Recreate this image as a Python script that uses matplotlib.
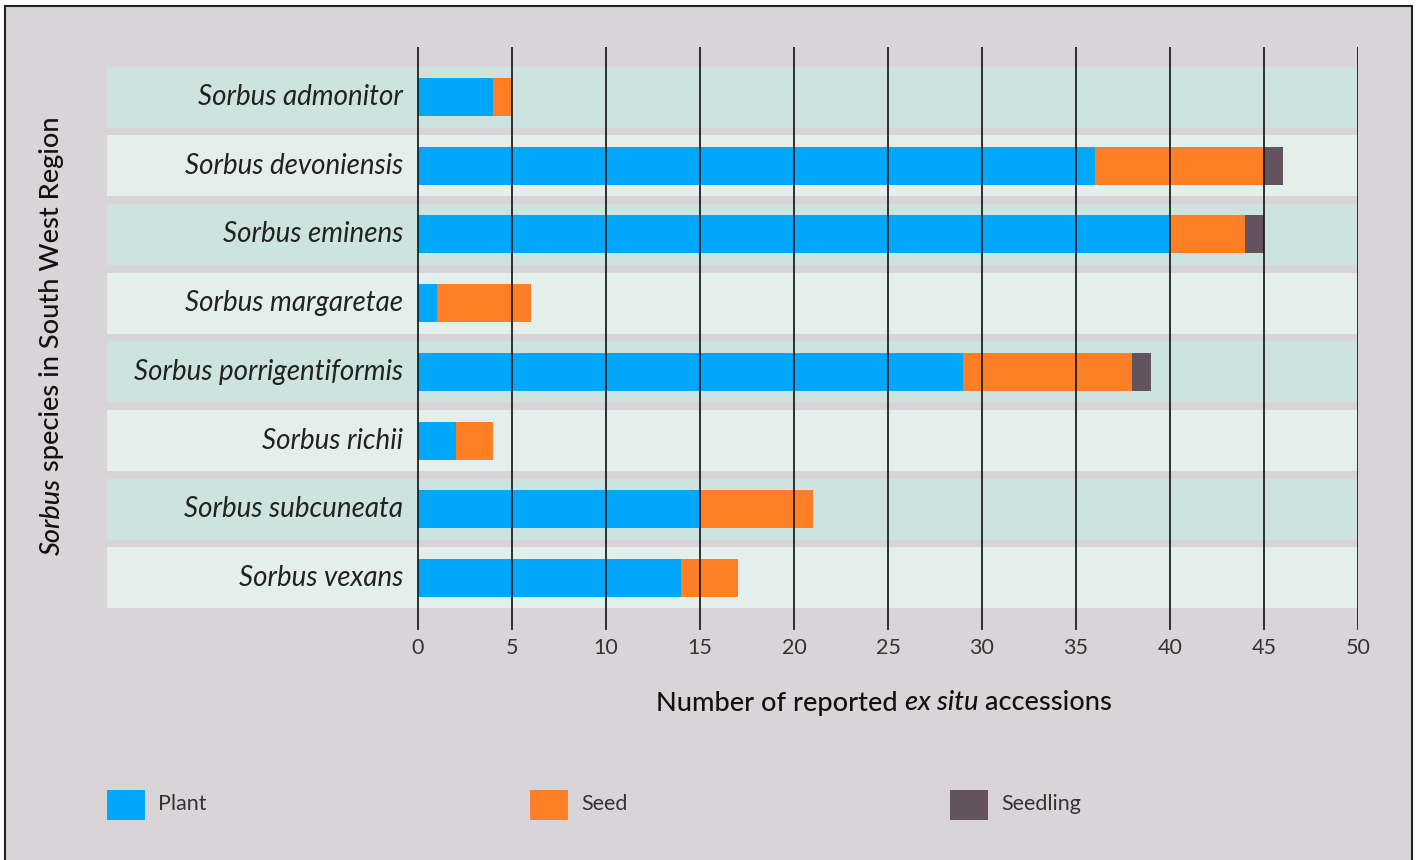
import matplotlib.pyplot as plt
from matplotlib.patches import Rectangle

# data
species = ['Sorbus admonitor', 'Sorbus devoniensis', 'Sorbus eminens', 'Sorbus margaretae',
           'Sorbus porrigentiformis', 'Sorbus richii', 'Sorbus subcuneata', 'Sorbus vexans']
plant = [4, 36, 40, 1, 29, 2, 15, 14]
seed = [1, 9, 4, 5, 9, 2, 6, 3]
seedling = [0, 1, 1, 0, 1, 0, 0, 0]
series_names = ['Plant', 'Seed', 'Seedling']
xticks = list(range(0, 51, 5))

colors = ['#00a7fb', '#ff7f27', '#63535f']
bg = '#d9d4d8'
band_colors = ['#cde3de', '#e4efec']
FONT = 'Lato'

W, H = 1417, 860
fig = plt.figure(figsize=(W / 100, H / 100), dpi=100, facecolor='white')

# figure background panel with border
fig.patches.append(Rectangle((5 / W, -0.05), 1407 / W, 1 - 6 / H + 0.05, transform=fig.transFigure,
                             facecolor=bg, edgecolor='#222222', linewidth=1.5, zorder=-5))

ax = fig.add_axes([107 / W, 1 - 630 / H, 1251 / W, 583 / H])
ax.set_facecolor('none')
xmin = -(418 - 107) / 18.8
ax.set_xlim(xmin, 50)
ax.set_ylim(7.757, -0.728)
for s in ax.spines.values():
    s.set_visible(False)

ypos = list(range(len(species)))

# row bands
ax.barh(ypos, [50 - xmin] * len(ypos), left=xmin, height=0.888,
        color=[band_colors[i % 2] for i in ypos], zorder=1)

# stacked bars
left = [0] * len(species)
for name, vals, c in zip(series_names, [plant, seed, seedling], colors):
    ax.barh(ypos, vals, left=left, height=0.553, color=c, zorder=2)
    left = [a + b for a, b in zip(left, vals)]

for x in xticks:
    ax.axvline(x, color='#111111', linewidth=1.2, zorder=3)

ax.set_yticks([])
ax.set_xticks(xticks)
ax.set_xticklabels([str(x) for x in xticks], fontsize=15.5, family=FONT, color='#333333')
ax.tick_params(axis='x', length=0, pad=6)

for y, name in zip(ypos, species):
    ax.text(-0.8, y, name, ha='right', va='center', fontsize=20, style='italic',
            family=FONT, color='#222222', zorder=4)

# x axis label with italic part
t1 = fig.text(0, 1 - 703 / H, 'Number of reported ', ha='left', va='center',
              fontsize=19.5, family=FONT, color='#111111', fontweight='medium')
t2 = fig.text(0, 0, 'ex situ', ha='left', va='center', fontsize=19.5, family=FONT,
              style='italic', color='#111111', fontweight='medium')
t3 = fig.text(0, 0, ' accessions', ha='left', va='center', fontsize=19.5, family=FONT,
              color='#111111', fontweight='medium')

# y axis label with italic part
y1 = fig.text(52 / W, 0, 'Sorbus', rotation=90, ha='center', va='bottom',
              fontsize=19.5, family=FONT, style='italic', color='#111111', fontweight='medium')
y2 = fig.text(52 / W, 0, ' species in South West Region', rotation=90, ha='center', va='bottom',
              fontsize=19.5, family=FONT, color='#111111', fontweight='medium')

# measure the pieces, then centre the composed labels
fig.canvas.draw()
r = fig.canvas.get_renderer()
inv = fig.transFigure.inverted()
wx = sum(t.get_window_extent(r).width for t in (t1, t2, t3))
x0 = 884 - wx / 2
yc = t1.get_window_extent(r)
ymid = H - 703
for t in (t1, t2, t3):
    t.set_position(inv.transform((x0, ymid)))
    x0 += t.get_window_extent(r).width
hy = sum(t.get_window_extent(r).height for t in (y1, y2))
yb = (H - 336) - hy / 2
for t in (y1, y2):
    t.set_position(inv.transform((52, yb)))
    yb += t.get_window_extent(r).height

# legend
for name, c, lx in zip(series_names, colors, [107, 530, 950]):
    fig.patches.append(Rectangle((lx / W, 1 - 820 / H), 38 / W, 30 / H, transform=fig.transFigure,
                                 facecolor=c, edgecolor='none', zorder=2))
    fig.text((lx + 51) / W, 1 - 804 / H, name, ha='left', va='center', fontsize=15.5,
             family=FONT, color='#333333')

fig.savefig('out.png', dpi=100, facecolor=fig.get_facecolor())
